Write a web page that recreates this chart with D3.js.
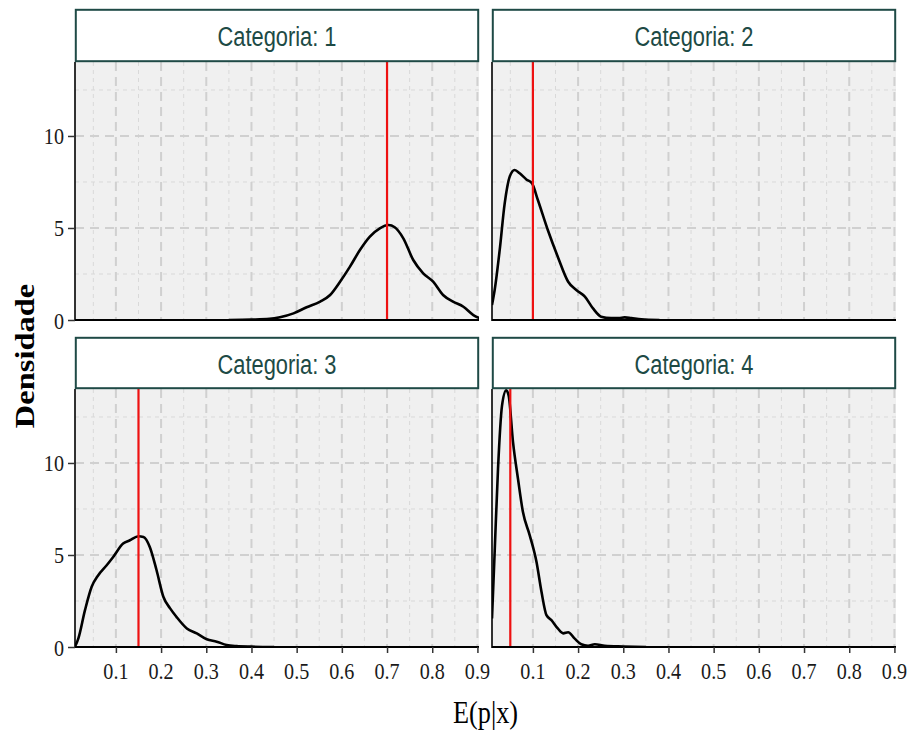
<!DOCTYPE html>
<html>
<head>
<meta charset="utf-8">
<script src="https://cdn.jsdelivr.net/npm/d3@7"></script>
<style>
  html, body { margin: 0; padding: 0; background: #ffffff; }
  svg { display: block; }
</style>
</head>
<body>
<svg id="chart" width="912" height="733"></svg>
<script>
// ---------------- DATA ----------------
const categories = ["Categoria: 1", "Categoria: 2", "Categoria: 3", "Categoria: 4"];
const referenceValues = [0.70, 0.10, 0.15, 0.05];   // red vertical lines
const xTickValues = [0.1, 0.2, 0.3, 0.4, 0.5, 0.6, 0.7, 0.8, 0.9];
const xTickLabels = ["0.1", "0.2", "0.3", "0.4", "0.5", "0.6", "0.7", "0.8", "0.9"];
const xMinorValues = [0.05, 0.15, 0.25, 0.35, 0.45, 0.55, 0.65, 0.75, 0.85];
const yTickValues = [0, 5, 10];
const yTickLabels = ["0", "5", "10"];
const yMinorValues = [2.5, 7.5, 12.5];
const xDomain = [0.0095, 0.9035];
const yDomain = [0, 14.02];

const cat1X = [0.35, 0.40, 0.44, 0.463, 0.493, 0.522, 0.552, 0.574, 0.596, 0.618, 0.640, 0.662, 0.684, 0.703, 0.717, 0.736, 0.758, 0.780, 0.802, 0.824, 0.846, 0.869, 0.891, 0.905];
const cat1Y = [0.0, 0.02, 0.06, 0.15, 0.36, 0.69, 1.0, 1.36, 2.08, 2.9, 3.8, 4.53, 4.98, 5.16, 5.04, 4.44, 3.26, 2.54, 2.08, 1.36, 1.0, 0.72, 0.27, 0.1];

const cat2X = [0.0095, 0.0154, 0.0265, 0.0376, 0.0487, 0.0597, 0.0708, 0.0855, 0.098, 0.111, 0.133, 0.155, 0.178, 0.196, 0.215, 0.233, 0.251, 0.273, 0.290, 0.303, 0.318, 0.34, 0.38];
const cat2Y = [0.82, 1.63, 3.8, 6.34, 7.79, 8.15, 7.97, 7.64, 7.43, 6.52, 4.89, 3.44, 2.08, 1.63, 1.27, 0.63, 0.18, 0.1, 0.1, 0.14, 0.1, 0.04, 0.0];

const cat3X = [0.0095, 0.017, 0.0316, 0.0464, 0.061, 0.0796, 0.094, 0.116, 0.131, 0.150, 0.161, 0.175, 0.190, 0.205, 0.220, 0.234, 0.257, 0.279, 0.301, 0.323, 0.345, 0.367, 0.40, 0.45];
const cat3Y = [0.02, 0.47, 2.0, 3.27, 3.9, 4.44, 4.89, 5.62, 5.8, 6.02, 5.98, 5.44, 4.17, 2.73, 2.1, 1.64, 1.01, 0.74, 0.42, 0.29, 0.11, 0.05, 0.02, 0.0];

const cat4X = [0.0095, 0.0154, 0.0228, 0.0316, 0.041, 0.0464, 0.056, 0.067, 0.078, 0.093, 0.108, 0.119, 0.130, 0.141, 0.155, 0.167, 0.178, 0.192, 0.207, 0.222, 0.237, 0.259, 0.30, 0.35];
const cat4Y = [1.55, 5.17, 9.68, 13.1, 13.95, 13.66, 11.13, 9.14, 7.33, 6.07, 4.62, 3.0, 1.73, 1.46, 1.01, 0.74, 0.80, 0.47, 0.15, 0.07, 0.15, 0.07, 0.03, 0.0];

const seriesX = [cat1X, cat2X, cat3X, cat4X];
const seriesY = [cat1Y, cat2Y, cat3Y, cat4Y];

// ---------------- LAYOUT ----------------
const cols = [[75, 479], [492, 896]];
const rows = [{ stripTop: 9, top: 62, bottom: 320 }, { stripTop: 337, top: 389, bottom: 647 }];
const SX = 0.82; // horizontal text compression of the reference

const svg = d3.select("#chart");
const defs = svg.append("defs");

function sText(g, x, y, str, opts) {
  const t = g.append("text")
    .attr("transform", `translate(${x},${y}) scale(${opts.sx || SX},1)` + (opts.rotate ? ` rotate(${opts.rotate})` : ""))
    .attr("text-anchor", opts.anchor || "middle")
    .attr("font-family", opts.family)
    .attr("font-size", opts.size)
    .attr("fill", opts.fill || "#000")
    .text(str);
  if (opts.weight) t.attr("font-weight", opts.weight);
  return t;
}

categories.forEach((cat, i) => {
  const r = Math.floor(i / 2), c = i % 2;
  const [x0, x1] = cols[c];
  const row = rows[r];
  const x = d3.scaleLinear().domain(xDomain).range([x0, x1]);
  const y = d3.scaleLinear().domain(yDomain).range([row.bottom, row.top]);
  const g = svg.append("g");

  // panel background
  g.append("rect").attr("x", x0).attr("y", row.top).attr("width", x1 - x0).attr("height", row.bottom - row.top)
    .attr("fill", "#f0f0f0");

  // minor grid
  g.selectAll(".hmin").data(yMinorValues).join("line")
    .attr("x1", x0).attr("x2", x1).attr("y1", d => y(d)).attr("y2", d => y(d))
    .attr("stroke", "#d9d9d9").attr("stroke-width", 1).attr("stroke-dasharray", "4,4");
  g.selectAll(".vmin").data(xMinorValues).join("line")
    .attr("x1", d => x(d)).attr("x2", d => x(d)).attr("y1", row.top).attr("y2", row.bottom)
    .attr("stroke", "#d9d9d9").attr("stroke-width", 1).attr("stroke-dasharray", "4,4");
  // major grid
  g.selectAll(".hmaj").data(yTickValues).join("line")
    .attr("x1", x0).attr("x2", x1).attr("y1", d => y(d)).attr("y2", d => y(d))
    .attr("stroke", "#d0d0d0").attr("stroke-width", 2).attr("stroke-dasharray", "9,6");
  g.selectAll(".vmaj").data(xTickValues).join("line")
    .attr("x1", d => x(d)).attr("x2", d => x(d)).attr("y1", row.top).attr("y2", row.bottom)
    .attr("stroke", "#d0d0d0").attr("stroke-width", 2).attr("stroke-dasharray", "9,6");

  // clip
  const clipId = "clip" + i;
  defs.append("clipPath").attr("id", clipId).append("rect")
    .attr("x", x0).attr("y", row.top - 1).attr("width", x1 - x0).attr("height", row.bottom - row.top + 1);

  // density curve
  const pts = seriesX[i].map((v, k) => [v, seriesY[i][k]]);
  const line = d3.line().x(d => x(d[0])).y(d => y(d[1])).curve(d3.curveMonotoneX);
  g.append("path").attr("d", line(pts)).attr("fill", "none").attr("stroke", "#000")
    .attr("stroke-width", 2.6).attr("stroke-linejoin", "round").attr("clip-path", `url(#${clipId})`);

  // reference line
  g.append("line").attr("x1", x(referenceValues[i])).attr("x2", x(referenceValues[i]))
    .attr("y1", row.top).attr("y2", row.bottom)
    .attr("stroke", "#ee1111").attr("stroke-width", 2.2);

  // axis lines
  g.append("line").attr("x1", x0).attr("x2", x1).attr("y1", row.bottom).attr("y2", row.bottom)
    .attr("stroke", "#000").attr("stroke-width", 2.2);
  g.append("line").attr("x1", x0).attr("x2", x0).attr("y1", row.top).attr("y2", row.bottom + 1)
    .attr("stroke", "#000").attr("stroke-width", 1.6);

  // y axis (left column)
  if (c === 0) {
    const yAxis = g.append("g").attr("transform", `translate(${x0},0)`)
      .call(d3.axisLeft(y).tickValues(yTickValues).tickSize(7).tickFormat(() => ""));
    yAxis.select(".domain").remove();
    yAxis.selectAll(".tick line").attr("stroke", "#333").attr("stroke-width", 1.5);
    yTickValues.forEach((v, k) => {
      sText(g, x0 - 11, y(v) + 8.5, yTickLabels[k], { anchor: "end", family: "'Liberation Serif', 'Times New Roman', serif", size: 24, fill: "#1a1a1a", sx: 0.84 });
    });
  }
  // x axis (bottom row)
  if (r === 1) {
    const xAxis = g.append("g").attr("transform", `translate(0,${row.bottom})`)
      .call(d3.axisBottom(x).tickValues(xTickValues).tickSize(6).tickFormat(() => ""));
    xAxis.select(".domain").remove();
    xAxis.selectAll(".tick line").attr("stroke", "#333").attr("stroke-width", 1.5);
    xTickValues.forEach((v, k) => {
      sText(g, x(v), row.bottom + 32, xTickLabels[k], { family: "'Liberation Serif', 'Times New Roman', serif", size: 24, fill: "#1a1a1a", sx: 0.84 });
    });
  }

  // strip
  g.append("rect").attr("x", x0 + 0.8).attr("y", row.stripTop + 0.8)
    .attr("width", x1 - x0 - 1.6).attr("height", row.top - row.stripTop - 1.6)
    .attr("fill", "#ffffff").attr("stroke", "#1f4a46").attr("stroke-width", 2);
  sText(g, (x0 + x1) / 2, row.stripTop + 37, cat, { family: "'Liberation Sans', Arial, sans-serif", size: 27, fill: "#1d4a45", sx: 0.81 });
});

// axis titles
sText(svg, 485.5, 723, "E(p|x)", { family: "'Liberation Serif', 'Times New Roman', serif", size: 32, fill: "#000", sx: 0.82 });
sText(svg, 33.5, 356, "Densidade", { family: "'Liberation Serif', 'Times New Roman', serif", size: 32.5, weight: "bold", fill: "#000", sx: 0.83, rotate: -90 });
</script>
</body>
</html>
